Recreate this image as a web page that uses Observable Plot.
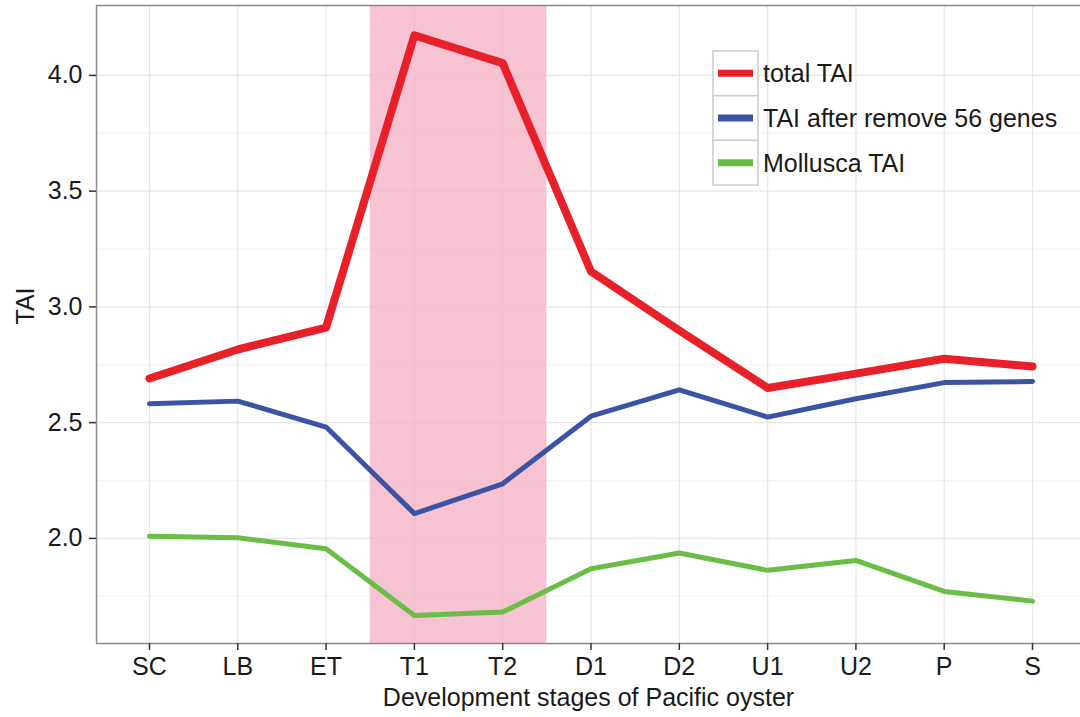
<!DOCTYPE html>
<html>
<head>
<meta charset="utf-8">
<script src="https://cdn.jsdelivr.net/npm/d3@7"></script>
<script src="https://cdn.jsdelivr.net/npm/@observablehq/plot@0.6"></script>
<style>
  html, body { margin: 0; padding: 0; background: #fff; }
  #chart svg { display: block; }
</style>
</head>
<body>
<div id="chart"></div>
<script>
const stages = ["SC", "LB", "ET", "T1", "T2", "D1", "D2", "U1", "U2", "P", "S"];
const totalTAI = [2.691, 2.816, 2.911, 4.173, 4.053, 3.153, 2.898, 2.650, 2.712, 2.776, 2.743];
const removedTAI = [2.582, 2.593, 2.481, 2.107, 2.236, 2.528, 2.642, 2.524, 2.603, 2.673, 2.678];
const molluscaTAI = [2.009, 2.003, 1.955, 1.667, 1.682, 1.869, 1.937, 1.862, 1.905, 1.771, 1.729];
const seriesNames = ["total TAI", "TAI after remove 56 genes", "Mollusca TAI"];
const seriesColors = ["#e8202a", "#3a53a4", "#6abd45"];
const highlightStages = ["T1", "T2"];
const yTicks = [2.0, 2.5, 3.0, 3.5, 4.0];
const yMinorTicks = [1.75, 2.25, 2.75, 3.25, 3.75];
const yDomain = [1.546, 4.302];

const idx = d3.range(stages.length);
const hl = [{x1: stages.indexOf(highlightStages[0]) - 0.5, x2: stages.indexOf(highlightStages[1]) + 0.5}];
const font = "'Liberation Sans', Arial, Helvetica, sans-serif";
const fs = 25;

const svg = Plot.plot({
  width: 1080,
  height: 717,
  marginTop: 5,
  marginLeft: 96,
  marginRight: 0,
  marginBottom: 74,
  style: {fontFamily: font, fontSize: fs + "px", background: "#fff"},
  x: {type: "linear", domain: [-0.6, stages.length - 1 + 0.6], range: [96, 1085]},
  y: {domain: yDomain},
  marks: [
    Plot.ruleY(yMinorTicks, {stroke: "#f3f3f3", strokeWidth: 1.2}),
    Plot.ruleY(yTicks, {stroke: "#e6e6e6", strokeWidth: 1.2}),
    Plot.ruleX(idx, {stroke: "#e6e6e6", strokeWidth: 1.2}),
    Plot.rect(hl, {x1: "x1", x2: "x2", fill: "#f5b3c5", fillOpacity: 0.8}),
    Plot.line(totalTAI, {x: (d, i) => i, y: d => d, stroke: seriesColors[0], strokeWidth: 8, strokeLinejoin: "round"}),
    Plot.line(removedTAI, {x: (d, i) => i, y: d => d, stroke: seriesColors[1], strokeWidth: 5, strokeLinejoin: "round"}),
    Plot.line(molluscaTAI, {x: (d, i) => i, y: d => d, stroke: seriesColors[2], strokeWidth: 5, strokeLinejoin: "round"}),
    Plot.ruleX([-0.6], {stroke: "#8a8a8a", strokeWidth: 1.5}),
    Plot.ruleY(yDomain, {stroke: "#8a8a8a", strokeWidth: 1.5}),
    Plot.axisX(idx, {tickFormat: i => stages[i], tickSize: 7, tickPadding: 7, fontSize: fs, label: null, stroke: "#333", strokeWidth: 1.5, fill: "#1a1a1a"}),
    Plot.axisY(yTicks, {tickFormat: d3.format(".1f"), tickSize: 7, tickPadding: 7, fontSize: fs, label: null, stroke: "#333", strokeWidth: 1.5, fill: "#1a1a1a"}),
    Plot.text(["TAI"], {frameAnchor: "left", dx: -71, rotate: -90, fontSize: fs, fill: "#1a1a1a"}),
    Plot.text(["Development stages of Pacific oyster"], {frameAnchor: "bottom", lineAnchor: "middle", dy: 54, fontSize: fs, fill: "#1a1a1a"})
  ]
});

// legend
const g = d3.select(svg).append("g").attr("font-family", font).attr("text-anchor", "start");
const lx = 713, ly = 51, kw = 45, kh = 44.7;
seriesNames.forEach((name, i) => {
  const y0 = ly + i * kh;
  g.append("rect").attr("x", lx).attr("y", y0).attr("width", kw).attr("height", kh)
    .attr("fill", "#fff").attr("stroke", "#cccccc").attr("stroke-width", 1.5);
  g.append("line").attr("x1", lx + 5).attr("x2", lx + kw - 5)
    .attr("y1", y0 + kh / 2).attr("y2", y0 + kh / 2)
    .attr("stroke", seriesColors[i]).attr("stroke-width", 7);
  g.append("text").attr("x", lx + kw + 5).attr("y", y0 + kh / 2).attr("dy", "0.35em")
    .attr("text-anchor", "start").attr("font-size", fs).attr("fill", "#1a1a1a").text(name);
});

document.getElementById("chart").appendChild(svg);
</script>
</body>
</html>
